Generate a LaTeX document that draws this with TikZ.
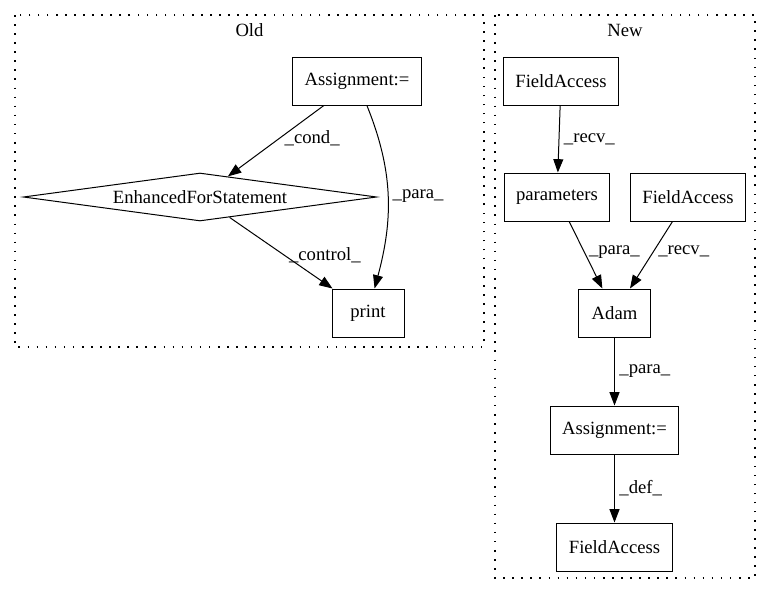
\documentclass[tikz,border=0pt]{standalone}
\usepackage{fontspec}
\setmainfont{Liberation Serif}
\usetikzlibrary{positioning, arrows.meta, shapes.geometric}
\tikzset{
    >={Stealth[length=10pt, width=7.5pt, inset=0pt]}, % filled triangle heads
    node distance=51pt, % gap between stacked nodes
    every node/.style={font=\fontsize{14}{17}\selectfont},
    box/.style={draw, line width=0.75pt, minimum width=54pt, minimum height=36pt, inner xsep=9pt}, % plain statement nodes
    loophead/.style={diamond, draw, line width=0.75pt, minimum width=265pt, minimum height=36pt, inner sep=0pt, aspect=7.4}, % for-loop header
    cluster/.style={line width=1pt, dash pattern=on 1.2pt off 5.6pt}, % dotted frame round each version
}

\begin{document}
\begin{tikzpicture}[x=0.75pt, y=-0.75pt]
    \useasboundingbox (0,0) rectangle (771,596);

    % old version
    \draw[cluster] (15,15) rectangle (484,347);
    \node (oldtitle) at (249.5,30) {Old};
    \node[box] (asgOld) at (357,81) {Assignment:=};
    \node[loophead] (efs) at (200,197) {EnhancedForStatement};
    \node[box] (print) at (368,313) {print};

    \path[->, line width=0.75pt]
        (asgOld)
            edge node[right, pos=0.46] {\_cond\_} (efs)
            edge[out=-68, in=75] node[right] {\_para\_} (print)
        (efs)
            edge node[right, pos=0.53] {\_control\_} (print);

    % new version
    \draw[cluster] (495,15) rectangle (755,578);
    \node (newtitle) at (625,30) {New};
    \node[box] (fa1) at (561,81) {FieldAccess};
    \node[box] (params) at (557,197) {parameters};
    \node[box] (fa2) at (688,197) {FieldAccess};
    \node[box] (adam) at (614.5,313) {Adam};
    \node[box] (asgNew) [below=of adam] {Assignment:=};
    \node[box] (fa3) [below=of asgNew] {FieldAccess};

    \path[->, line width=0.75pt]
        (fa1)
            edge node[right] {\_recv\_} (params)
        (params)
            edge node[right, pos=0.45] {\_para\_} (adam)
        (fa2)
            edge node[right, pos=0.45] {\_recv\_} (adam)
        (adam)
            edge node[right] {\_para\_} (asgNew)
        (asgNew)
            edge node[right] {\_def\_} (fa3);
\end{tikzpicture}
\end{document}
